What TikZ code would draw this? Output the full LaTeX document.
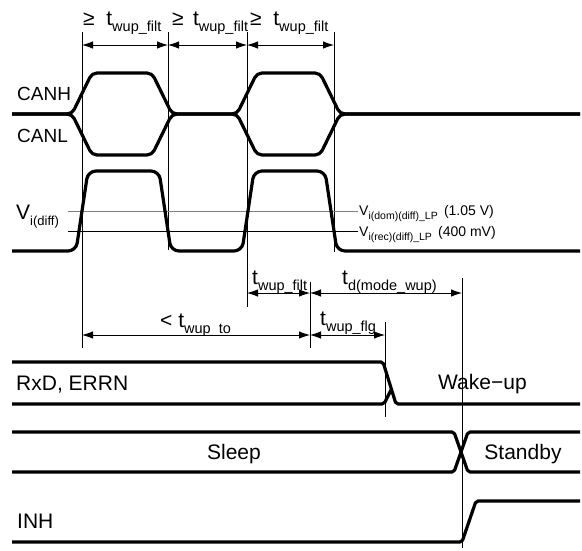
\documentclass[tikz,border=0pt]{standalone}
\usepackage{fontspec}
\setmainfont{Liberation Sans}
\usetikzlibrary{arrows.meta}

\newcommand{\lowtxt}[2][14.5]{\raisebox{-0.3em}{\fontsize{#1}{#1}\selectfont #2}}

\begin{document}
\begin{tikzpicture}[
x=1pt, y=-1pt,
sig/.style={line width=3.2pt, line join=round, rounded corners=5pt},
guide/.style={line width=0.8pt},
dim/.style={line width=0.8pt, {Latex[length=11pt,width=7.5pt]}-{Latex[length=11pt,width=7.5pt]}},
thr/.style={line width=0.9pt},
lbl/.style={font=\fontsize{21}{24}\selectfont, inner sep=0pt},
small/.style={font=\fontsize{14}{16}\selectfont, inner sep=0pt}
]
\useasboundingbox (0,0) rectangle (582,550);

% guide lines
\coordinate (g1t) at (82,32);   \coordinate (g1b) at (82,348);
\coordinate (g2t) at (168,32);  \coordinate (g2b) at (168,250);
\coordinate (g3t) at (247,32);  \coordinate (g3b) at (247,307);
\coordinate (g4t) at (334,32);  \coordinate (g4b) at (334,252);
\coordinate (g5t) at (310,282); \coordinate (g5b) at (310,348);
\coordinate (g6t) at (385,322); \coordinate (g6b) at (385,417);
\coordinate (g7t) at (462,278); \coordinate (g7b) at (462,548);

\draw[guide] (g1t) -- (g1b);
\draw[guide] (g2t) -- (g2b);
\draw[guide] (g3t) -- (g3b);
\draw[guide] (g4t) -- (g4b);
\draw[guide] (g5t) -- (g5b);
\draw[guide] (g6t) -- (g6b);
\draw[guide] (g7t) -- (g7b);

% thresholds
\coordinate (dom0) at (68,211); \coordinate (dom1) at (358,211);
\coordinate (rec0) at (68,231); \coordinate (rec1) at (358,231);
\draw[thr, gray] (dom0) -- (dom1);
\draw[thr] (rec0) -- (rec1);

% CANH / CANL
\draw[sig] (12,114) -- (72,114) -- (92,73) -- (152,73) -- (172,114) -- (237,114)
  -- (257,73) -- (320,73) -- (340,114) -- (580,114);
\draw[sig] (12,114) -- (72,114) -- (92,155) -- (152,155) -- (172,114) -- (237,114)
  -- (257,155) -- (320,155) -- (340,114) -- (580,114);

% Vi(diff)
\draw[sig, rounded corners=8pt] (12,251) -- (76,251) -- (88,171) -- (159,171) -- (171,251)
  -- (242,251) -- (254,171) -- (325,171) -- (337,251) -- (580,251);

% RxD, ERRN
\draw[sig, rounded corners=2pt] (12,362) -- (383,362) -- (396,404) -- (580,404);
\draw[sig, rounded corners=2pt] (12,404) -- (384,404) -- (391,390);

% mode
\draw[sig, rounded corners=2pt] (12,432) -- (454,432) -- (468,472) -- (580,472);
\draw[sig, rounded corners=2pt] (12,472) -- (454,472) -- (468,432) -- (580,432);

% INH
\draw[sig, rounded corners=2pt] (12,542) -- (462,542) -- (476,501) -- (580,501);

% timing arrows
\coordinate (d1) at (82,45);  \coordinate (d2) at (168,45);
\coordinate (d3) at (247,45); \coordinate (d4) at (334,45);
\coordinate (e1) at (247,293); \coordinate (e2) at (310,293); \coordinate (e3) at (462,293);
\coordinate (f1) at (82,335);  \coordinate (f2) at (310,335); \coordinate (f3) at (385,335);

\draw[dim] (d1) -- (d2);
\draw[dim] (d2) -- (d3);
\draw[dim] (d3) -- (d4);
\draw[dim] (e1) -- (e2);
\draw[dim] (e2) -- (e3);
\draw[dim] (f1) -- (f2);
\draw[dim] (f2) -- (f3);

% labels
\node[lbl, anchor=base west] (filt1) at (83,25) {≥\; t\lowtxt{wup\_filt}};
\node[lbl, anchor=base west] (filt2) at (172,25) {≥\, t\lowtxt{wup\_filt}};
\node[lbl, anchor=base west] (filt3) at (250,25) {≥\; t\lowtxt{wup\_filt}};

\node[lbl, anchor=base west, font=\fontsize{19}{22}\selectfont] (canh) at (17,100) {CANH};
\node[lbl, anchor=base west, font=\fontsize{19}{22}\selectfont] (canl) at (17,142) {CANL};
\node[lbl, anchor=base west] (vidiff) at (16,219) {V\lowtxt[13]{i(diff)}};

\node[small, anchor=base west] (vdom) at (359,215) {V\lowtxt[10.5]{i(dom)(diff)\_LP}\, (1.05 V)};
\node[small, anchor=base west] (vrec) at (359,236) {V\lowtxt[10.5]{i(rec)(diff)\_LP}\, (400 mV)};

\node[lbl, anchor=base west] (filt4) at (252,284) {t\lowtxt{wup\_filt}};
\node[lbl, anchor=base west] (tmode) at (342,284) {t\lowtxt{d(mode\_wup)}};
\node[lbl, anchor=base west] (wupto) at (160,327) {< t\lowtxt{wup\_to}};
\node[lbl, anchor=base west] (wupflg) at (320,325) {t\lowtxt{wup\_flg}};

\node[lbl, anchor=base west] (rxd) at (16,390) {RxD, ERRN};
\node[lbl, anchor=base west] (wake) at (438,389) {Wake−up};
\node[lbl, anchor=base] (sleep) at (234,459) {Sleep};
\node[lbl, anchor=base] (stby) at (523,459) {Standby};
\node[lbl, anchor=base west] (inh) at (17,528) {INH};

\end{tikzpicture}
\end{document}
